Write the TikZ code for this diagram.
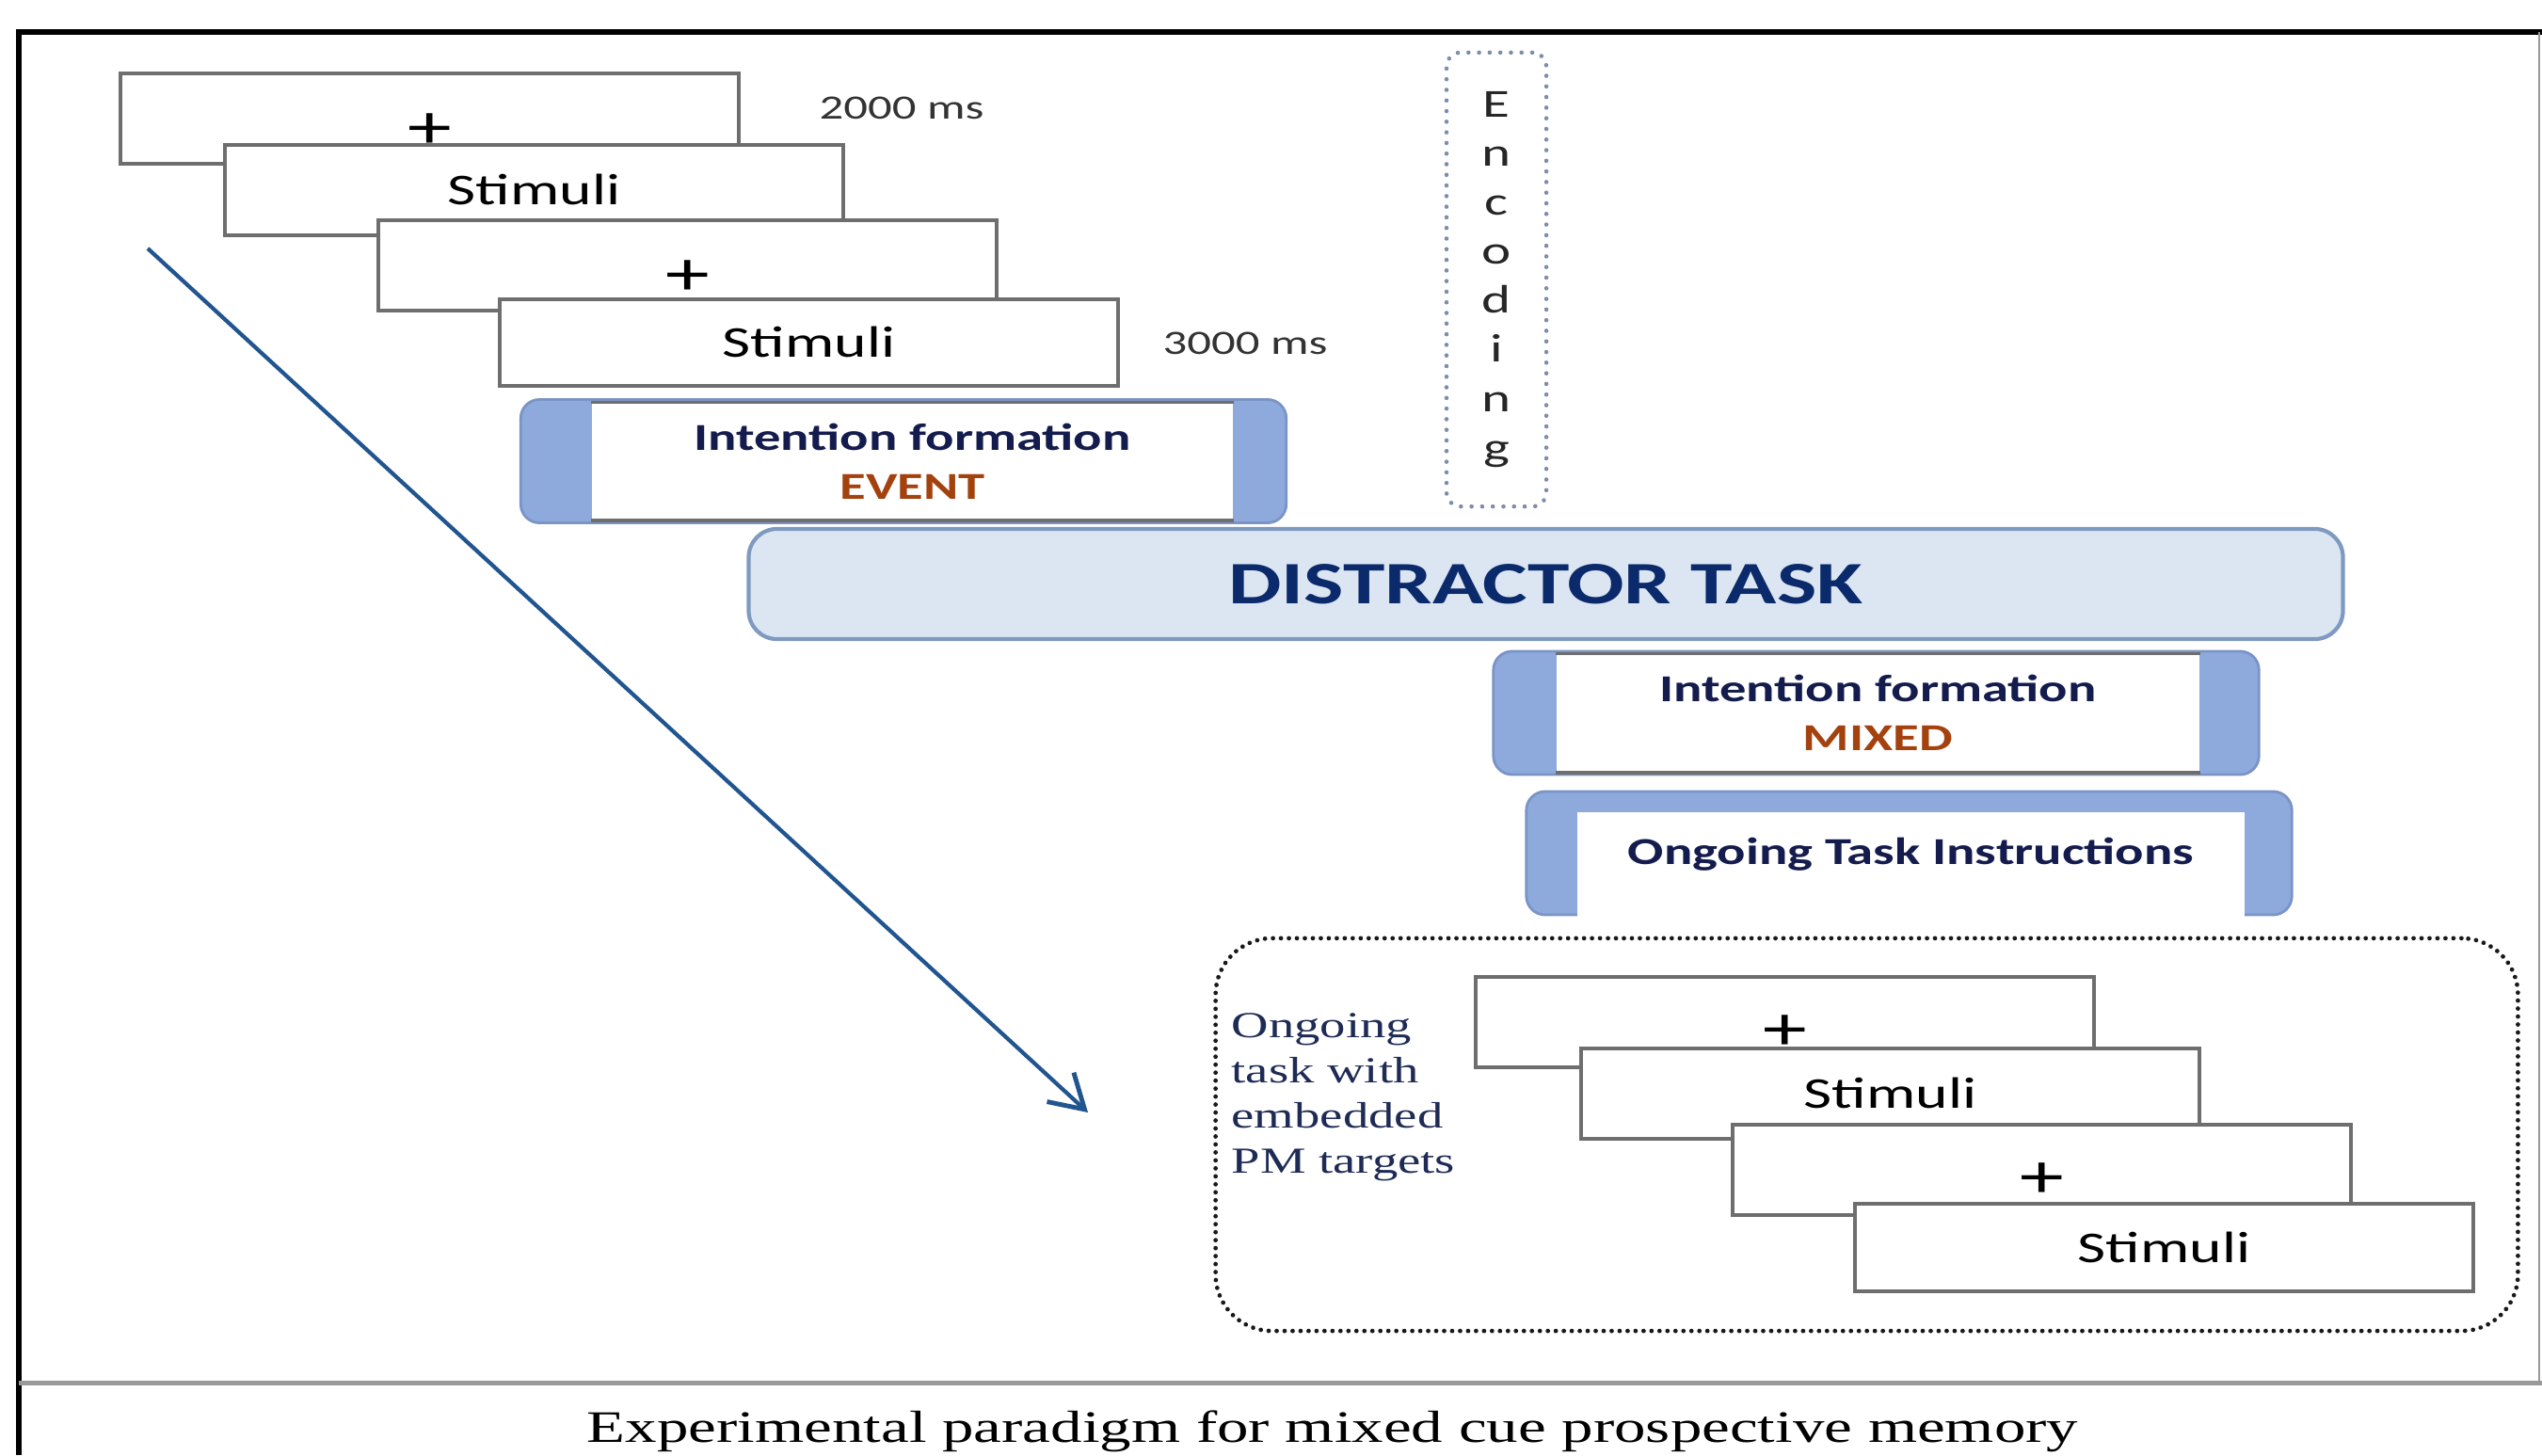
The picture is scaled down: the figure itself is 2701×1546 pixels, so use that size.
\documentclass[tikz,border=0pt]{standalone}
\usepackage{fontspec}
\setmainfont{Liberation Serif}[FakeStretch=1.4]
\newfontfamily\calibri{Carlito}[FakeStretch=1.4]
\usetikzlibrary{arrows.meta}

\definecolor{screengray}{HTML}{6E6E6E}
\definecolor{timegray}{HTML}{333333}
\definecolor{barblue}{HTML}{8EA9DB}
\definecolor{barline}{HTML}{7A94C6}
\definecolor{taskfill}{HTML}{DCE6F2}
\definecolor{taskline}{HTML}{7F9AC0}
\definecolor{navy}{HTML}{141C4E}
\definecolor{taskblue}{HTML}{0B2A6C}
\definecolor{cuebrown}{HTML}{A3420F}
\definecolor{sweepblue}{HTML}{21558F}
\definecolor{dotgray}{HTML}{7F8CAA}
\definecolor{inkblue}{HTML}{1E2B55}

\begin{document}
\begin{tikzpicture}[x=0.01cm, y=-0.01cm,
    screen/.style = {rectangle, draw=screengray, line width=1pt, fill=white,
        inner sep=0pt, anchor=north west,
        minimum width=6.57cm, minimum height=0.96cm,
        font=\calibri\fontsize{13.3}{16}\selectfont},
    fixation/.style = {screen, font=\calibri\fontsize{19}{20}\selectfont},
    timing/.style = {text=timegray, font=\calibri\fontsize{10.3}{12}\selectfont},
    cuebar/.style = {rectangle, rounded corners=0.2cm, fill=barblue,
        draw=barline, line width=0.8pt,
        minimum width=8.13cm, minimum height=1.31cm},
    cuepanel/.style = {rectangle, fill=white, inner sep=0pt, align=center,
        text=navy, font=\calibri\bfseries\fontsize{11.5}{14.8}\selectfont},
    distract/.style = {rectangle, rounded corners=0.3cm, fill=taskfill,
        draw=taskline, line width=1.2pt, text=taskblue,
        minimum width=16.93cm, minimum height=1.17cm,
        font=\calibri\bfseries\fontsize{18.2}{20}\selectfont},
    encodebox/.style = {rectangle, rounded corners=0.15cm, draw=dotgray,
        line width=1.3pt, line cap=round, dash pattern=on 0.01pt off 3.2pt,
        minimum width=1.06cm, minimum height=4.82cm, align=center,
        text=black!85, font=\calibri\fontsize{12}{14.8}\selectfont},
    blockbox/.style = {rectangle, rounded corners=0.6cm, draw=black!90,
        line width=1.35pt, line cap=round, dash pattern=on 0.01pt off 2.4pt,
        minimum width=13.83cm, minimum height=4.17cm},
    blocktext/.style = {align=left, inner sep=0pt, text=inkblue,
        font=\fontsize{11.1}{13.7}\selectfont},
    sweep/.style = {draw=sweepblue, line width=1.2pt,
        -{Straight Barb[length=0.35cm, width=0.42cm, line width=1.4pt]}},
    caption/.style = {font=\fontsize{13.6}{16}\selectfont}]

\useasboundingbox (0,0) rectangle (2701,1546);

% Frame
\draw[black, line width=0.055cm] (17,34) -- (2701,34);
\draw[black, line width=0.05cm] (20,31) -- (20,1546);
\draw[black!40, line width=0.05cm] (20,1469) -- (2701,1469);
\draw[black!40, line width=0.02cm] (2698,34) -- (2698,1469);

% Encoding trials
\node[fixation] (fixA) at (126,76) {\raisebox{-0.13cm}[\height][\depth]{+}};
\node[screen] (stimA) at (237,152) {Stimuli};
\node[fixation] (fixB) at (400,232) {\raisebox{-0.13cm}[\height][\depth]{+}};
\node[screen, minimum height=0.92cm] (stimB) at (529,316) {Stimuli};

% Timings
\node[timing] (fixtime) at (958,115) {2000 ms};
\node[timing] (stimtime) at (1323,365) {3000 ms};

% Encoding
\node[encodebox] (encode) at (1590,297) {E\\n\\c\\o\\d\\i\\n\\g};

% Intention formation EVENT
\node[cuebar] (eventbar) at (960,490) {};
\node[cuepanel, minimum width=6.81cm, minimum height=1.24cm] (event) at (969.5,490)
    {Intention formation\\\textcolor{cuebrown}{EVENT}};
\draw[screengray, line width=1pt] (event.north west) -- (event.north east)
    (event.south west) -- (event.south east);

% Distractor task
\node[distract] (task) at (1642.5,620.5) {DISTRACTOR TASK};

% Intention formation MIXED
\node[cuebar] (mixedbar) at (1993.5,757.5) {};
\node[cuepanel, minimum width=6.83cm, minimum height=1.25cm] (mixed) at (1995.5,757.5)
    {Intention formation\\\textcolor{cuebrown}{MIXED}};
\draw[screengray, line width=1pt] (mixed.north west) -- (mixed.north east)
    (mixed.south west) -- (mixed.south east);

% Ongoing task instructions
\node[cuebar] (instrbar) at (2028.5,906.5) {};
\node[cuepanel, minimum width=7.09cm, minimum height=1.14cm, text depth=0.3cm,
    anchor=north] (instr) at (2030.5,862) {Ongoing Task Instructions};

% Ongoing task block
\node[blockbox] (block) at (1983.5,1205.5) {};
\node[fixation] (fixC) at (1566,1036) {\raisebox{-0.11cm}[\height][\depth]{+}};
\node[screen] (stimC) at (1678,1112) {Stimuli};
\node[fixation] (fixD) at (1839,1193) {\raisebox{-0.11cm}[\height][\depth]{+}};
\node[screen, minimum height=0.93cm] (stimD) at (1969,1277) {Stimuli};
\node[blocktext, anchor=west] (blocklabel) at (1308,1166)
    {Ongoing\\task with\\embedded\\PM targets};

% Time course
\coordinate (sweepstart) at (157,264);
\coordinate (sweepend) at (1156,1182);
\draw[sweep] (sweepstart) -- (sweepend);

% Caption
\node[caption] (title) at (1416,1521) {Experimental paradigm for mixed cue prospective memory};
\end{tikzpicture}
\end{document}
